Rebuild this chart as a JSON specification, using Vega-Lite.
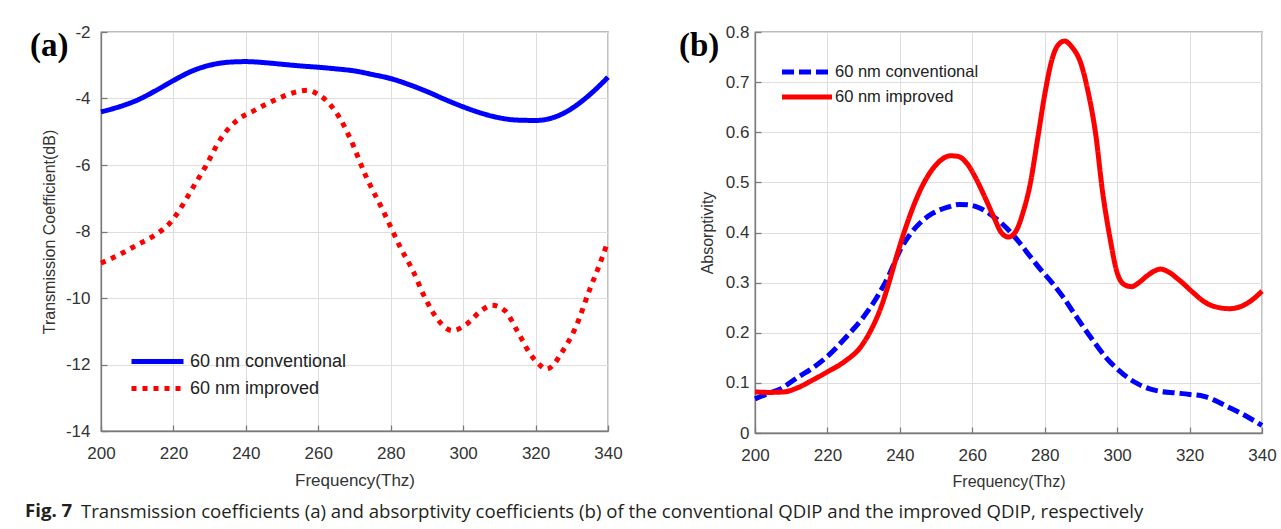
{
  "$schema": "https://vega.github.io/schema/vega-lite/v6.json",
  "background": "white",
  "padding": {"left": 25, "top": 22, "right": 5, "bottom": 5},
  "config": {
    "font": "Liberation Sans",
    "view": {"stroke": "#7a7a7a", "strokeWidth": 1.3},
    "axis": {
      "grid": true, "gridColor": "#dedede", "gridWidth": 1, "labelFlush": false,
      "domainColor": "#7a7a7a", "domainWidth": 1.3, "tickColor": "#7a7a7a", "tickSize": -6, "tickWidth": 1.3,
      "labelColor": "#333333", "labelFontSize": 17, "labelFont": "Liberation Sans",
      "titleColor": "#333333", "titleFontWeight": "normal", "titleFont": "Liberation Sans", "titleFontSize": 16
    }
  },
  "datasets": {
    "a": [
      {"f": 200, "v": -4.40, "s": "60 nm conventional"},
      {"f": 205, "v": -4.25, "s": "60 nm conventional"},
      {"f": 210, "v": -4.05, "s": "60 nm conventional"},
      {"f": 215, "v": -3.77, "s": "60 nm conventional"},
      {"f": 220, "v": -3.46, "s": "60 nm conventional"},
      {"f": 225, "v": -3.18, "s": "60 nm conventional"},
      {"f": 230, "v": -3.00, "s": "60 nm conventional"},
      {"f": 235, "v": -2.91, "s": "60 nm conventional"},
      {"f": 240, "v": -2.89, "s": "60 nm conventional"},
      {"f": 245, "v": -2.92, "s": "60 nm conventional"},
      {"f": 250, "v": -2.97, "s": "60 nm conventional"},
      {"f": 255, "v": -3.02, "s": "60 nm conventional"},
      {"f": 260, "v": -3.06, "s": "60 nm conventional"},
      {"f": 265, "v": -3.11, "s": "60 nm conventional"},
      {"f": 270, "v": -3.17, "s": "60 nm conventional"},
      {"f": 275, "v": -3.28, "s": "60 nm conventional"},
      {"f": 280, "v": -3.40, "s": "60 nm conventional"},
      {"f": 285, "v": -3.58, "s": "60 nm conventional"},
      {"f": 290, "v": -3.79, "s": "60 nm conventional"},
      {"f": 295, "v": -4.03, "s": "60 nm conventional"},
      {"f": 300, "v": -4.25, "s": "60 nm conventional"},
      {"f": 305, "v": -4.44, "s": "60 nm conventional"},
      {"f": 310, "v": -4.58, "s": "60 nm conventional"},
      {"f": 315, "v": -4.65, "s": "60 nm conventional"},
      {"f": 320, "v": -4.66, "s": "60 nm conventional"},
      {"f": 325, "v": -4.57, "s": "60 nm conventional"},
      {"f": 330, "v": -4.30, "s": "60 nm conventional"},
      {"f": 335, "v": -3.88, "s": "60 nm conventional"},
      {"f": 340, "v": -3.36, "s": "60 nm conventional"},
      {"f": 200, "v": -8.95, "s": "60 nm improved"},
      {"f": 205, "v": -8.70, "s": "60 nm improved"},
      {"f": 210, "v": -8.40, "s": "60 nm improved"},
      {"f": 215, "v": -8.10, "s": "60 nm improved"},
      {"f": 219, "v": -7.75, "s": "60 nm improved"},
      {"f": 222, "v": -7.30, "s": "60 nm improved"},
      {"f": 225, "v": -6.75, "s": "60 nm improved"},
      {"f": 229, "v": -6.02, "s": "60 nm improved"},
      {"f": 233, "v": -5.22, "s": "60 nm improved"},
      {"f": 238, "v": -4.62, "s": "60 nm improved"},
      {"f": 242, "v": -4.38, "s": "60 nm improved"},
      {"f": 246, "v": -4.15, "s": "60 nm improved"},
      {"f": 250, "v": -3.95, "s": "60 nm improved"},
      {"f": 254, "v": -3.80, "s": "60 nm improved"},
      {"f": 257, "v": -3.75, "s": "60 nm improved"},
      {"f": 260, "v": -3.88, "s": "60 nm improved"},
      {"f": 263, "v": -4.15, "s": "60 nm improved"},
      {"f": 266, "v": -4.60, "s": "60 nm improved"},
      {"f": 269, "v": -5.25, "s": "60 nm improved"},
      {"f": 273, "v": -6.30, "s": "60 nm improved"},
      {"f": 278, "v": -7.40, "s": "60 nm improved"},
      {"f": 283, "v": -8.55, "s": "60 nm improved"},
      {"f": 286, "v": -9.15, "s": "60 nm improved"},
      {"f": 289.5, "v": -10.0, "s": "60 nm improved"},
      {"f": 293, "v": -10.65, "s": "60 nm improved"},
      {"f": 297, "v": -10.98, "s": "60 nm improved"},
      {"f": 301, "v": -10.78, "s": "60 nm improved"},
      {"f": 305, "v": -10.38, "s": "60 nm improved"},
      {"f": 308, "v": -10.22, "s": "60 nm improved"},
      {"f": 311.5, "v": -10.38, "s": "60 nm improved"},
      {"f": 315, "v": -11.0, "s": "60 nm improved"},
      {"f": 318.5, "v": -11.68, "s": "60 nm improved"},
      {"f": 321, "v": -12.0, "s": "60 nm improved"},
      {"f": 323, "v": -12.14, "s": "60 nm improved"},
      {"f": 325, "v": -12.0, "s": "60 nm improved"},
      {"f": 327, "v": -11.68, "s": "60 nm improved"},
      {"f": 331, "v": -10.9, "s": "60 nm improved"},
      {"f": 335, "v": -9.73, "s": "60 nm improved"},
      {"f": 338, "v": -8.9, "s": "60 nm improved"},
      {"f": 340, "v": -8.28, "s": "60 nm improved"}
    ],
    "b": [
      {"f": 200, "v": 0.068, "s": "60 nm conventional"},
      {"f": 203, "v": 0.077, "s": "60 nm conventional"},
      {"f": 207, "v": 0.088, "s": "60 nm conventional"},
      {"f": 212, "v": 0.112, "s": "60 nm conventional"},
      {"f": 216, "v": 0.130, "s": "60 nm conventional"},
      {"f": 220, "v": 0.153, "s": "60 nm conventional"},
      {"f": 225, "v": 0.190, "s": "60 nm conventional"},
      {"f": 230, "v": 0.232, "s": "60 nm conventional"},
      {"f": 234, "v": 0.275, "s": "60 nm conventional"},
      {"f": 237, "v": 0.315, "s": "60 nm conventional"},
      {"f": 240, "v": 0.364, "s": "60 nm conventional"},
      {"f": 243, "v": 0.398, "s": "60 nm conventional"},
      {"f": 246, "v": 0.422, "s": "60 nm conventional"},
      {"f": 249, "v": 0.438, "s": "60 nm conventional"},
      {"f": 253, "v": 0.450, "s": "60 nm conventional"},
      {"f": 256.5, "v": 0.456, "s": "60 nm conventional"},
      {"f": 259, "v": 0.455, "s": "60 nm conventional"},
      {"f": 262, "v": 0.449, "s": "60 nm conventional"},
      {"f": 266, "v": 0.431, "s": "60 nm conventional"},
      {"f": 270, "v": 0.405, "s": "60 nm conventional"},
      {"f": 273, "v": 0.380, "s": "60 nm conventional"},
      {"f": 276, "v": 0.352, "s": "60 nm conventional"},
      {"f": 279, "v": 0.325, "s": "60 nm conventional"},
      {"f": 282, "v": 0.300, "s": "60 nm conventional"},
      {"f": 285, "v": 0.272, "s": "60 nm conventional"},
      {"f": 288, "v": 0.240, "s": "60 nm conventional"},
      {"f": 291, "v": 0.208, "s": "60 nm conventional"},
      {"f": 294, "v": 0.178, "s": "60 nm conventional"},
      {"f": 297, "v": 0.150, "s": "60 nm conventional"},
      {"f": 300, "v": 0.128, "s": "60 nm conventional"},
      {"f": 303, "v": 0.110, "s": "60 nm conventional"},
      {"f": 306, "v": 0.097, "s": "60 nm conventional"},
      {"f": 309, "v": 0.088, "s": "60 nm conventional"},
      {"f": 312, "v": 0.083, "s": "60 nm conventional"},
      {"f": 316, "v": 0.080, "s": "60 nm conventional"},
      {"f": 320, "v": 0.077, "s": "60 nm conventional"},
      {"f": 324, "v": 0.073, "s": "60 nm conventional"},
      {"f": 327, "v": 0.065, "s": "60 nm conventional"},
      {"f": 330, "v": 0.054, "s": "60 nm conventional"},
      {"f": 334, "v": 0.040, "s": "60 nm conventional"},
      {"f": 337, "v": 0.028, "s": "60 nm conventional"},
      {"f": 340, "v": 0.015, "s": "60 nm conventional"},
      {"f": 200, "v": 0.082, "s": "60 nm improved"},
      {"f": 204, "v": 0.081, "s": "60 nm improved"},
      {"f": 208, "v": 0.082, "s": "60 nm improved"},
      {"f": 212, "v": 0.091, "s": "60 nm improved"},
      {"f": 216, "v": 0.106, "s": "60 nm improved"},
      {"f": 220, "v": 0.122, "s": "60 nm improved"},
      {"f": 225, "v": 0.144, "s": "60 nm improved"},
      {"f": 229, "v": 0.170, "s": "60 nm improved"},
      {"f": 232, "v": 0.205, "s": "60 nm improved"},
      {"f": 235, "v": 0.255, "s": "60 nm improved"},
      {"f": 237, "v": 0.300, "s": "60 nm improved"},
      {"f": 239, "v": 0.350, "s": "60 nm improved"},
      {"f": 242, "v": 0.418, "s": "60 nm improved"},
      {"f": 246, "v": 0.490, "s": "60 nm improved"},
      {"f": 250, "v": 0.535, "s": "60 nm improved"},
      {"f": 254, "v": 0.553, "s": "60 nm improved"},
      {"f": 256, "v": 0.552, "s": "60 nm improved"},
      {"f": 258.5, "v": 0.538, "s": "60 nm improved"},
      {"f": 261, "v": 0.508, "s": "60 nm improved"},
      {"f": 263, "v": 0.478, "s": "60 nm improved"},
      {"f": 266, "v": 0.430, "s": "60 nm improved"},
      {"f": 268, "v": 0.400, "s": "60 nm improved"},
      {"f": 270, "v": 0.391, "s": "60 nm improved"},
      {"f": 272, "v": 0.402, "s": "60 nm improved"},
      {"f": 274, "v": 0.440, "s": "60 nm improved"},
      {"f": 276, "v": 0.497, "s": "60 nm improved"},
      {"f": 278, "v": 0.585, "s": "60 nm improved"},
      {"f": 280, "v": 0.675, "s": "60 nm improved"},
      {"f": 282, "v": 0.745, "s": "60 nm improved"},
      {"f": 283.5, "v": 0.772, "s": "60 nm improved"},
      {"f": 285.5, "v": 0.782, "s": "60 nm improved"},
      {"f": 287.5, "v": 0.770, "s": "60 nm improved"},
      {"f": 290, "v": 0.737, "s": "60 nm improved"},
      {"f": 292, "v": 0.680, "s": "60 nm improved"},
      {"f": 294, "v": 0.600, "s": "60 nm improved"},
      {"f": 296, "v": 0.480, "s": "60 nm improved"},
      {"f": 298, "v": 0.390, "s": "60 nm improved"},
      {"f": 300, "v": 0.320, "s": "60 nm improved"},
      {"f": 302, "v": 0.296, "s": "60 nm improved"},
      {"f": 304, "v": 0.292, "s": "60 nm improved"},
      {"f": 306, "v": 0.300, "s": "60 nm improved"},
      {"f": 308, "v": 0.312, "s": "60 nm improved"},
      {"f": 310, "v": 0.322, "s": "60 nm improved"},
      {"f": 312, "v": 0.327, "s": "60 nm improved"},
      {"f": 314, "v": 0.322, "s": "60 nm improved"},
      {"f": 317, "v": 0.306, "s": "60 nm improved"},
      {"f": 321, "v": 0.280, "s": "60 nm improved"},
      {"f": 324, "v": 0.262, "s": "60 nm improved"},
      {"f": 327, "v": 0.252, "s": "60 nm improved"},
      {"f": 331, "v": 0.248, "s": "60 nm improved"},
      {"f": 334, "v": 0.252, "s": "60 nm improved"},
      {"f": 337, "v": 0.264, "s": "60 nm improved"},
      {"f": 340, "v": 0.283, "s": "60 nm improved"}
    ]
  },
  "title": {
    "text": "Fig. 7",
    "orient": "bottom", "anchor": "start", "frame": "group",
    "font": "Open Sans", "fontSize": 18.6, "fontWeight": "bold", "color": "#231f20",
    "offset": 0, "dx": -76, "dy": -19
  },
  "vconcat": [
    {
      "title": {
        "text": "Transmission coefficients (a) and absorptivity coefficients (b) of the conventional QDIP and the improved QDIP, respectively",
        "orient": "bottom", "anchor": "start", "frame": "group",
        "font": "Open Sans", "fontSize": 18.6, "fontWeight": "normal", "color": "#231f20",
        "offset": 13, "dx": -20
      },
      "bounds": "flush",
      "spacing": 147,
      "resolve": {"scale": {"color": "independent", "strokeDash": "independent", "x": "independent", "y": "independent"}, "legend": {"color": "independent", "strokeDash": "independent"}},
      "hconcat": [
        {
          "width": 507, "height": 399,
          "title": {"text": "(a)", "font": "Liberation Serif", "fontSize": 33, "fontWeight": "bold", "color": "#000000", "anchor": "start", "frame": "group", "orient": "top", "offset": 0, "dx": -71, "dy": 40},
          "data": {"name": "a"},
          "mark": {"type": "line", "strokeWidth": 5, "interpolate": "monotone", "strokeCap": "butt"},
          "encoding": {
            "x": {"field": "f", "type": "quantitative", "scale": {"domain": [200, 340], "nice": false},
                  "axis": {"values": [200, 220, 240, 260, 280, 300, 320, 340], "title": "Frequency(Thz)", "titleFontSize": 17, "labelPadding": 20, "titlePadding": 11}},
            "y": {"field": "v", "type": "quantitative", "scale": {"domain": [-14, -2], "nice": false},
                  "axis": {"values": [-14, -12, -10, -8, -6, -4, -2], "labelExpr": "'' + datum.value", "title": "Transmission Coefficient(dB)", "labelPadding": 17, "titlePadding": 8}},
            "color": {"field": "s", "type": "nominal", "scale": {"domain": ["60 nm conventional", "60 nm improved"], "range": ["#0000ff", "#ff0000"]},
                      "legend": {"title": null, "orient": "none", "legendX": 28, "legendY": 314, "symbolType": "M-2,0H2", "symbolSize": 676, "symbolOffset": 13, "symbolStrokeWidth": 5, "labelFontSize": 18, "labelColor": "#222222", "labelOffset": 17, "rowPadding": 1, "padding": 0}},
            "strokeDash": {"field": "s", "type": "nominal", "scale": {"domain": ["60 nm conventional", "60 nm improved"], "range": [[1, 0], [5, 6]]},
                      "legend": {"title": null, "orient": "none", "legendX": 28, "legendY": 314, "symbolType": "M-2,0H2", "symbolSize": 676, "symbolOffset": 13, "symbolStrokeWidth": 5, "labelFontSize": 18, "labelColor": "#222222", "labelOffset": 17, "rowPadding": 1, "padding": 0}}
          }
        },
        {
          "width": 507, "height": 401,
          "title": {"text": "(b)", "font": "Liberation Serif", "fontSize": 33, "fontWeight": "bold", "color": "#000000", "anchor": "start", "frame": "group", "orient": "top", "offset": 0, "dx": -76, "dy": 40},
          "data": {"name": "b"},
          "mark": {"type": "line", "strokeWidth": 5, "interpolate": "monotone", "strokeCap": "butt"},
          "encoding": {
            "x": {"field": "f", "type": "quantitative", "scale": {"domain": [200, 340], "nice": false},
                  "axis": {"values": [200, 220, 240, 260, 280, 300, 320, 340], "title": "Frequency(Thz)", "labelPadding": 20, "titlePadding": 10}},
            "y": {"field": "v", "type": "quantitative", "scale": {"domain": [0, 0.8], "nice": false},
                  "axis": {"values": [0, 0.1, 0.2, 0.3, 0.4, 0.5, 0.6, 0.7, 0.8], "format": "~g", "title": "Absorptivity", "labelPadding": 12, "titlePadding": 10}},
            "color": {"field": "s", "type": "nominal", "scale": {"domain": ["60 nm conventional", "60 nm improved"], "range": ["#0000ff", "#ff0000"]},
                      "legend": {"title": null, "orient": "none", "legendX": 24, "legendY": 25, "symbolType": "M-2,0H2", "symbolSize": 625, "symbolOffset": 13, "symbolStrokeWidth": 5, "labelFontSize": 16.5, "labelColor": "#222222", "labelOffset": 13, "rowPadding": 0, "padding": 0}},
            "strokeDash": {"field": "s", "type": "nominal", "scale": {"domain": ["60 nm conventional", "60 nm improved"], "range": [[12, 5], [1, 0]]},
                      "legend": {"title": null, "orient": "none", "legendX": 24, "legendY": 25, "symbolType": "M-2,0H2", "symbolSize": 625, "symbolOffset": 13, "symbolStrokeWidth": 5, "labelFontSize": 16.5, "labelColor": "#222222", "labelOffset": 13, "rowPadding": 0, "padding": 0}}
          }
        }
      ]
    }
  ]
}
